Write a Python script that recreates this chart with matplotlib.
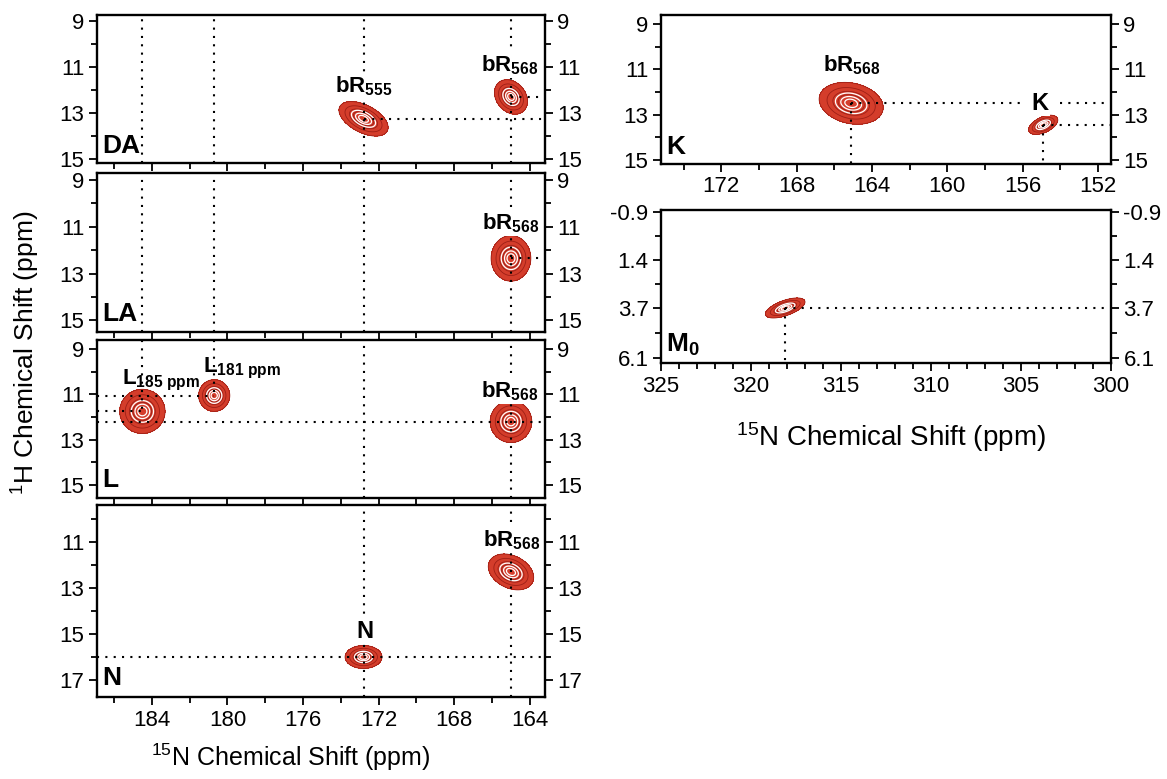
import matplotlib
matplotlib.use('Agg')
import matplotlib.pyplot as plt
from matplotlib.ticker import FixedLocator, FixedFormatter
import numpy as np

plt.rcParams['font.family'] = ['Liberation Sans', 'DejaVu Sans']
plt.rcParams['mathtext.fontset'] = 'custom'
plt.rcParams['mathtext.rm'] = 'Liberation Sans'
plt.rcParams['mathtext.bf'] = 'Liberation Sans:bold'
plt.rcParams['mathtext.it'] = 'Liberation Sans:italic'
plt.rcParams['axes.unicode_minus'] = False

# --- peaks (15N ppm, 1H ppm, outer contour widths in ppm, tilt) ---
peak_panel = ['DA', 'DA', 'LA', 'L', 'L', 'L', 'N', 'N', 'K', 'K', 'M0']
peak_n15 = [172.8, 165.0, 165.0, 184.5, 180.7, 165.0, 172.8, 165.0, 165.1, 154.9, 318.1]
peak_h1 = [13.25, 12.3, 12.35, 11.75, 11.05, 12.2, 16.0, 12.3, 12.5, 13.45, 3.7]
peak_wn = [2.6, 1.75, 2.1, 2.4, 1.65, 2.2, 1.95, 2.4, 3.4, 1.55, 2.2]
peak_wh = [1.5, 1.5, 1.95, 1.95, 1.4, 1.85, 1.0, 1.56, 1.85, 0.85, 0.96]
peak_tilt = [-0.5, -0.25, 0.0, 0.0, 0.0, 0.0, 0.0, -0.3, -0.2, 0.5, 0.6]
# dotted guides drawn from each peak
peak_vguide = ['full', 'full', 'full', 'up', 'up', 'full', 'full', 'full', 'down', 'down', 'down']
peak_hguide = ['right', 'right', 'right', 'left', 'left', 'full', 'full', None, 'right', 'right', 'right']
# break in a horizontal guide where a label sits (15N ppm)
peak_hgap = [None] * 8 + [(156.1, 154.0), None, None]

# extra full-height guides in panels (15N ppm)
extra_vguide_panel = ['DA', 'DA', 'LA', 'LA', 'LA', 'L']
extra_vguide_n15 = [184.5, 180.7, 184.5, 180.7, 172.8, 172.8]

# --- peak labels ---
label_panel = ['DA', 'DA', 'LA', 'L', 'L', 'L', 'N', 'N', 'K', 'K']
label_text = [r'$\mathbf{bR_{555}}$', r'$\mathbf{bR_{568}}$', r'$\mathbf{bR_{568}}$',
              r'$\mathbf{L_{185\ ppm}}$', r'$\mathbf{L_{181\ ppm}}$', r'$\mathbf{bR_{568}}$',
              'N', r'$\mathbf{bR_{568}}$', r'$\mathbf{bR_{568}}$', 'K']
label_n15 = [172.8, 165.05, 165.0, 185.6, 181.3, 165.05, 172.7, 164.95, 165.1, 155.07]
label_h1 = [12.1, 11.17, 11.1, 10.56, 10.03, 11.13, 15.17, 11.2, 11.1, 12.8]
label_ha = ['center', 'center', 'center', 'left', 'left', 'center', 'center', 'center', 'center', 'center']
label_size = [16, 16, 16, 16, 16, 16, 17, 16, 16, 17]

# --- axes ---
panel_names = ['DA', 'LA', 'L', 'N', 'K', 'M0']
panel_titles = ['DA', 'LA', 'L', 'N', 'K', r'$\mathbf{M_0}$']
panel_box = [(97, 545, 15, 163), (97, 545, 173, 332), (97, 545, 340, 498),
             (97, 545, 505, 697), (661, 1111, 15, 164), (661, 1111, 210, 363)]
panel_xlim = [(186.9, 163.2)] * 4 + [(175.2, 151.3), (325, 300)]
panel_ylim = [(15.17, 8.74), (15.5, 8.7), (15.57, 8.6), (17.74, 9.39), (15.18, 8.6), (6.34, -1.0)]
left_xticks = [184, 180, 176, 172, 168, 164]
left_xminor = [186, 182, 178, 174, 170, 166]
k_xticks = [172, 168, 164, 160, 156, 152]
k_xminor = [174, 170, 166, 162, 158, 154]
m_xticks = [325, 320, 315, 310, 305, 300]
m_xminor = list(range(301, 325))
h_yticks = [9, 11, 13, 15]
h_yminor = [10, 12, 14]
n_yticks = [11, 13, 15, 17]
n_yminor = [10, 12, 14, 16]
m_yticks = [-0.9, 1.4, 3.7, 6.1]
m_yminor = [0.25, 2.55, 4.9]
m_ylabels = ['-0.9', '1.4', '3.7', '6.1']

panel_xticks = [left_xticks] * 4 + [k_xticks, m_xticks]
panel_xminor = [left_xminor] * 4 + [k_xminor, m_xminor]
panel_yticks = [h_yticks, h_yticks, h_yticks, n_yticks, h_yticks, m_yticks]
panel_yminor = [h_yminor, h_yminor, h_yminor, n_yminor, h_yminor, m_yminor]
panel_xlabels_on = [False, False, False, True, True, True]

RED = '#d43d2b'
DARK = '#9e1f16'
W, H = 1167, 779

fig = plt.figure(figsize=(11.67, 7.79), dpi=100)
axes = {}
for i, name in enumerate(panel_names):
    x0, x1, y0, y1 = panel_box[i]
    ax = fig.add_axes([x0 / W, 1 - y1 / H, (x1 - x0) / W, (y1 - y0) / H])
    ax.set_xlim(*panel_xlim[i])
    ax.set_ylim(*panel_ylim[i])
    ax.xaxis.set_major_locator(FixedLocator(panel_xticks[i]))
    ax.xaxis.set_minor_locator(FixedLocator(panel_xminor[i]))
    ax.yaxis.set_major_locator(FixedLocator(panel_yticks[i]))
    ax.yaxis.set_minor_locator(FixedLocator(panel_yminor[i]))
    if name == 'M0':
        ax.yaxis.set_major_formatter(FixedFormatter(m_ylabels))
    else:
        ax.yaxis.set_major_formatter(FixedFormatter([str(t) for t in panel_yticks[i]]))
    ax.xaxis.set_major_formatter(FixedFormatter([str(t) for t in panel_xticks[i]]))
    ax.tick_params(which='both', direction='out', width=1.3, top=False,
                   left=True, right=True, labelleft=True, labelright=True,
                   labelbottom=panel_xlabels_on[i], labelsize=16, pad=3)
    ax.tick_params(which='major', length=6)
    ax.tick_params(which='minor', length=4)
    for s in ax.spines.values():
        s.set_linewidth(1.7)
    ax.text(0.012, 0.035, panel_titles[i], transform=ax.transAxes, ha='left',
            va='bottom', fontsize=19, fontweight='bold')
    axes[name] = ax

dot = dict(color='black', linestyle=(0, (1, 3)), linewidth=1.5, zorder=5)

for n15, name in zip(extra_vguide_n15, extra_vguide_panel):
    axes[name].axvline(n15, **dot)

thr = 0.12
k = np.sqrt(2 * np.log(1 / thr))
for i, name in enumerate(peak_panel):
    ax = axes[name]
    x0, y0 = peak_n15[i], peak_h1[i]
    xl = ax.get_xlim()
    yl = ax.get_ylim()
    vg, hg = peak_vguide[i], peak_hguide[i]
    if vg == 'full':
        ax.axvline(x0, **dot)
    elif vg == 'up':
        ax.plot([x0, x0], [yl[1], y0], **dot)
    elif vg == 'down':
        ax.plot([x0, x0], [y0, yl[0]], **dot)
    if hg == 'full':
        ax.axhline(y0, **dot)
    elif hg == 'right':
        if peak_hgap[i] is None:
            ax.plot([x0, xl[1]], [y0, y0], **dot)
        else:
            g0, g1 = peak_hgap[i]
            ax.plot([x0, g0], [y0, y0], **dot)
            ax.plot([g1, xl[1]], [y0, y0], **dot)
    elif hg == 'left':
        ax.plot([xl[0], x0], [y0, y0], **dot)

    sx = peak_wn[i] / 2 / k
    sy = peak_wh[i] / 2 / k
    rho = peak_tilt[i]
    gx = np.linspace(x0 - peak_wn[i], x0 + peak_wn[i], 220)
    gy = np.linspace(y0 - peak_wh[i], y0 + peak_wh[i], 220)
    X, Y = np.meshgrid(gx, gy)
    u = (X - x0) / sx
    v = (Y - y0) / sy
    Z = np.exp(-(u * u - 2 * rho * u * v + v * v) / (2 * (1 - rho ** 2)))
    ax.contourf(X, Y, Z, levels=[thr, 1.01], colors=[RED], zorder=3)
    ax.contour(X, Y, Z, levels=[thr, 0.3, 0.5, 0.7], colors=[DARK], linewidths=0.6, zorder=4)
    ax.contour(X, Y, Z, levels=[0.6, 0.8, 0.92], colors=['white'], linewidths=0.9, zorder=4)

for i, name in enumerate(label_panel):
    kw = {}
    if label_ha[i] == 'center':
        kw['bbox'] = dict(boxstyle='square,pad=0.05', facecolor='white', edgecolor='none')
    axes[name].text(label_n15[i], label_h1[i], label_text[i], ha=label_ha[i], va='baseline',
                    fontsize=label_size[i], fontweight='bold', zorder=6, **kw)

fig.text(26 / W, 1 - 353 / H, r'$^{1}$H Chemical Shift (ppm)', rotation=90,
         fontsize=19, ha='center', va='center')
fig.text(291 / W, 1 - 757 / H, r'$^{15}$N Chemical Shift (ppm)',
         fontsize=18, ha='center', va='center')
fig.text(891 / W, 1 - 437 / H, r'$^{15}$N Chemical Shift (ppm)',
         fontsize=20, ha='center', va='center')

fig.savefig('out.png', dpi=100)
